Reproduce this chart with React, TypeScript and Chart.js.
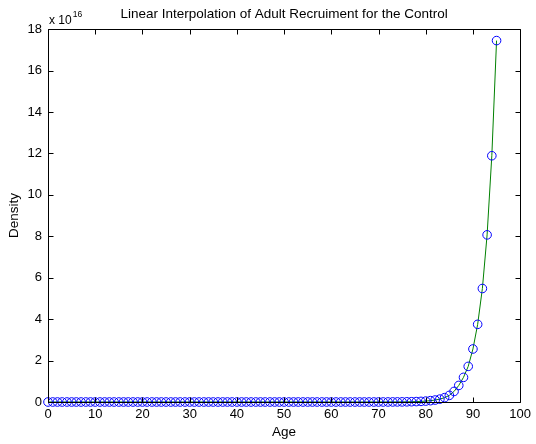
import React, { useEffect, useRef } from "react";
import { Chart, registerables } from "chart.js";

Chart.register(...registerables);

const TITLE = "Linear Interpolation of Adult Recruiment for the Control";
const X_LABEL = "Age";
const Y_LABEL = "Density";
const EXPONENT = "16";

const X_TICKS = [0, 10, 20, 30, 40, 50, 60, 70, 80, 90, 100];
const Y_TICKS = [0, 2, 4, 6, 8, 10, 12, 14, 16, 18];

const AGES = [
  0, 1, 2, 3, 4, 5, 6, 7, 8, 9,
  10, 11, 12, 13, 14, 15, 16, 17, 18, 19,
  20, 21, 22, 23, 24, 25, 26, 27, 28, 29,
  30, 31, 32, 33, 34, 35, 36, 37, 38, 39,
  40, 41, 42, 43, 44, 45, 46, 47, 48, 49,
  50, 51, 52, 53, 54, 55, 56, 57, 58, 59,
  60, 61, 62, 63, 64, 65, 66, 67, 68, 69,
  70, 71, 72, 73, 74, 75, 76, 77, 78, 79,
  80, 81, 82, 83, 84, 85, 86, 87, 88, 89,
  90, 91, 92, 93, 94, 95,
];

// Density in units of 10^16
const DENSITY = [
  0, 0, 0, 0, 0, 0, 0, 0, 0, 0,
  0, 0, 0, 0, 0, 0, 0, 0, 0, 0,
  0, 0, 0, 0, 0, 0, 0, 0, 0, 0,
  0, 0, 0, 0, 0, 0, 0, 0, 0, 0,
  0, 0, 0, 0, 0, 0, 0, 0, 0, 0,
  0, 0, 0, 0, 0, 0, 0, 0, 0, 0,
  0, 0, 0, 0, 0, 0, 0, 0, 0.0002, 0.0004,
  0.0006, 0.001, 0.002, 0.003, 0.004, 0.006, 0.009, 0.013, 0.02, 0.03,
  0.044, 0.065, 0.095, 0.14, 0.21, 0.32, 0.51, 0.8, 1.19, 1.72,
  2.56, 3.75, 5.48, 8.07, 11.89, 17.45,
];

const FONT = "'Liberation Sans', Arial, Helvetica, sans-serif";

const matlabAxes = {
  id: "matlabAxes",
  afterLayout(chart: any) {
    const tb = chart.titleBlock;
    if (tb) {
      tb.left = chart.chartArea.left;
      tb.right = chart.chartArea.right;
    }
  },
  afterDatasetsDraw(chart: any) {
    const { ctx, chartArea } = chart;
    const { left, right, top, bottom } = chartArea;
    const xs = chart.scales.x;
    const ys = chart.scales.y;
    ctx.save();
    ctx.strokeStyle = "#000";
    ctx.lineWidth = 1;
    ctx.beginPath();
    const L = Math.round(left) + 0.5;
    const R = Math.round(right) + 0.5;
    const T = Math.round(top) + 0.5;
    const B = Math.round(bottom) + 0.5;
    ctx.rect(L, T, R - L, B - T);
    const tl = 5;
    X_TICKS.forEach((v) => {
      const px = Math.round(xs.getPixelForValue(v)) + 0.5;
      ctx.moveTo(px, B);
      ctx.lineTo(px, B - tl);
      ctx.moveTo(px, T);
      ctx.lineTo(px, T + tl);
    });
    Y_TICKS.forEach((v) => {
      const py = Math.round(ys.getPixelForValue(v)) + 0.5;
      ctx.moveTo(L, py);
      ctx.lineTo(L + tl, py);
      ctx.moveTo(R, py);
      ctx.lineTo(R - tl, py);
    });
    ctx.stroke();

    // exponent label
    ctx.fillStyle = "#000";
    ctx.textBaseline = "alphabetic";
    ctx.textAlign = "left";
    ctx.font = `12px ${FONT}`;
    const base = "x 10";
    ctx.fillText(base, left + 1, top - 5);
    const w = ctx.measureText(base).width;
    ctx.font = `8.5px ${FONT}`;
    ctx.fillText(EXPONENT, left + 1 + w + 1, top - 12);
    ctx.restore();
  },
};

export default function App() {
  const ref = useRef<HTMLCanvasElement | null>(null);

  useEffect(() => {
    document.body.style.margin = "0";
    const canvas = ref.current;
    if (!canvas) return;
    const points = AGES.map((a, i) => ({ x: a, y: DENSITY[i] }));
    const chart = new Chart(canvas, {
      type: "line",
      data: {
        datasets: [
          {
            data: points,
            borderColor: "#008000",
            borderWidth: 1,
            pointStyle: "circle",
            pointRadius: 4.3,
            pointBorderColor: "#0000ff",
            pointBackgroundColor: "rgba(0,0,0,0)",
            pointBorderWidth: 1,
            tension: 0,
            clip: false,
          } as any,
        ],
      },
      options: {
        animation: false,
        responsive: false,
        devicePixelRatio: 1,
        layout: { padding: { left: 0, right: 14, top: 0, bottom: 0 } },
        plugins: {
          legend: { display: false },
          tooltip: { enabled: false },
          title: {
            display: true,
            text: TITLE,
            color: "#000",
            font: { family: FONT, size: 13.5, weight: "normal" },
            padding: { top: 6, bottom: 7 },
          },
        },
        scales: {
          x: {
            type: "linear",
            min: 0,
            max: 100,
            afterBuildTicks: (scale: any) => {
              scale.ticks = X_TICKS.map((v) => ({ value: v }));
            },
            afterFit: (scale: any) => {
              scale.height = 42;
            },
            grid: { display: false, drawTicks: false },
            border: { display: false },
            ticks: {
              color: "#000",
              font: { family: FONT, size: 13 },
              padding: 5,
              maxRotation: 0,
              autoSkip: false,
            },
            title: {
              display: true,
              text: X_LABEL,
              color: "#000",
              font: { family: FONT, size: 13.5 },
              padding: { top: 0, bottom: 4 },
            },
          },
          y: {
            type: "linear",
            min: 0,
            max: 18,
            afterBuildTicks: (scale: any) => {
              scale.ticks = Y_TICKS.map((v) => ({ value: v }));
            },
            afterFit: (scale: any) => {
              scale.width = 48;
            },
            grid: { display: false, drawTicks: false },
            border: { display: false },
            ticks: {
              color: "#000",
              font: { family: FONT, size: 13 },
              padding: 6,
              autoSkip: false,
            },
            title: {
              display: true,
              text: Y_LABEL,
              color: "#000",
              font: { family: FONT, size: 13.5 },
              padding: { top: 6, bottom: 0 },
            },
          },
        },
      },
      plugins: [matlabAxes],
    });
    return () => chart.destroy();
  }, []);

  return (
    <div style={{ width: 536, height: 444, background: "#fff" }}>
      <canvas ref={ref} width={536} height={444} style={{ display: "block" }} />
    </div>
  );
}
